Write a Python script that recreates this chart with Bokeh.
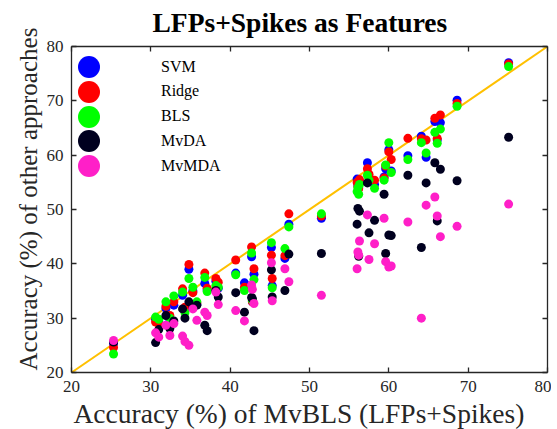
from bokeh.plotting import figure
from bokeh.models import (Legend, LegendItem, LinearAxis, CustomJSTickFormatter,
                          SingleIntervalTicker, Range1d, Title)
from bokeh.embed import file_html
from bokeh.resources import INLINE

# ---- data ----
mvbls = [25.3, 30.6, 31.0, 31.9, 32.4, 32.9, 34.0, 34.3, 34.8, 35.3, 35.8, 36.8, 37.1,
         38.2, 38.5, 40.7, 41.8, 42.7, 43.0, 42.8, 45.2, 45.3, 46.9, 47.4, 51.5,
         56.0, 56.1, 56.3, 56.2, 57.3, 57.5, 58.2, 59.4, 59.6, 60.0, 60.3, 62.4,
         64.1, 64.7, 65.8, 66.1, 66.5, 68.6, 75.1]
svm = [25.3, 29.8, 29.5, 31.8, 29.5, 32.4, 34.2, 31.5, 39.0, 35.0, 32.5, 36.4, 35.2,
       36.8, 35.5, 38.3, 36.5, 41.3, 38.1, 33.0, 43.0, 36.0, 41.0, 47.3, 48.4,
       55.6, 54.5, 55.2, 54.0, 58.6, 56.0, 54.6, 56.0, 57.5, 61.0, 57.1, 59.9,
       63.5, 59.6, 66.2, 62.8, 66.0, 70.1, 77.0]
ridge = [24.6, 29.3, 29.0, 32.2, 30.5, 33.0, 35.4, 32.0, 39.9, 34.7, 32.8, 38.3, 35.5,
         37.3, 36.6, 40.7, 35.7, 43.1, 39.1, 33.0, 41.6, 37.3, 41.5, 49.2, 48.8,
         55.0, 54.2, 55.5, 53.8, 57.5, 56.5, 55.4, 55.8, 58.0, 60.6, 59.2, 63.1,
         63.0, 62.8, 66.8, 63.1, 67.4, 69.5, 76.8]
bls = [23.4, 30.2, 29.8, 33.0, 30.0, 34.1, 34.8, 31.0, 37.3, 35.7, 33.0, 37.5, 34.9,
       36.0, 35.7, 38.0, 35.1, 42.0, 37.1, 33.3, 43.9, 35.6, 42.8, 46.8, 49.2,
       53.3, 54.0, 54.6, 52.8, 56.3, 55.4, 53.9, 55.4, 58.2, 62.3, 56.8, 59.2,
       62.3, 60.4, 64.2, 62.2, 64.8, 69.0, 76.3]
mvda = [25.6, 25.5, 27.9, 30.5, 28.1, 29.5, 31.7, 30.0, 33.0, 32.0, 32.4, 28.7, 27.7,
        35.1, 33.9, 34.7, 31.1, 33.8, 27.7, 33.6, 38.9, 33.9, 35.1, 41.8, 41.9,
        47.3, 50.2, 49.7, 41.4, 54.9, 45.7, 48.0, 52.8, 41.9, 45.3, 45.2, 56.3,
        43.0, 54.9, 58.6, 47.9, 57.4, 55.3, 63.3]
mvmda = [25.9, 27.3, 26.5, 28.7, 26.8, 29.0, 26.7, 25.7, 25.0, 31.7, 29.6, 31.1, 30.5,
         34.8, 32.5, 31.4, 29.5, 36.1, 32.7, 35.3, 40.2, 33.2, 39.1, 36.7, 34.2,
         39.1, 42.2, 44.2, 41.6, 49.0, 40.8, 43.7, 48.4, 40.4, 39.4, 39.6, 47.7,
         30.0, 50.8, 52.3, 48.8, 45.0, 46.9, 51.0]

series_names = ["SVM", "Ridge", "BLS", "MvDA", "MvMDA"]
series_vals = [svm, ridge, bls, mvda, mvmda]
series_colors = ["#0000FF", "#FF0000", "#00FF00", "#00001F", "#FF1FC8"]
axis_lo, axis_hi = 20, 80

FONT = "Liberation Serif"
TXT = "#262626"
FH = 326

p = figure(frame_width=476, frame_height=FH,
           x_range=Range1d(axis_lo, axis_hi), y_range=Range1d(axis_lo, axis_hi),
           output_backend="svg", toolbar_location=None,
           min_border_left=71, min_border_right=2, min_border_top=10, min_border_bottom=10,
           title="LFPs+Spikes as Features")
p.background_fill_color = "white"
p.border_fill_color = "white"
p.outline_line_color = None
p.xgrid.visible = False
p.ygrid.visible = False

p.title.text_font = FONT
p.title.text_font_size = "27.5px"
p.title.text_font_style = "bold"
p.title.text_color = "black"
p.title.align = "left"
p.title.offset = 81
p.title.standoff = 9

# reference diagonal
p.line([axis_lo, axis_hi], [axis_lo, axis_hi], line_color="#FFC000", line_width=2)

renderers = []
for name, vals, col in zip(series_names, series_vals, series_colors):
    r = p.scatter(mvbls, vals, size=9, marker="circle", fill_color=col, line_color=None)
    renderers.append(r)

def style_axis(ax, labels=True):
    ax.ticker = SingleIntervalTicker(interval=10)
    ax.axis_line_color = TXT
    ax.axis_line_width = 1.3
    ax.major_tick_line_color = TXT
    ax.major_tick_line_width = 1.3
    ax.major_tick_in = 5
    ax.major_tick_out = 0
    ax.minor_tick_line_color = None
    ax.major_label_text_font = FONT
    ax.major_label_text_font_size = "17px"
    ax.major_label_text_color = TXT
    ax.major_label_standoff = 4
    if not labels:
        ax.formatter = CustomJSTickFormatter(code="return ''")

style_axis(p.xaxis[0])
style_axis(p.yaxis[0])

top = LinearAxis()
style_axis(top, labels=False)
p.add_layout(top, "above")
right = LinearAxis()
style_axis(right, labels=False)
p.add_layout(right, "right")

xlab = Title(text="Accuracy (%) of MvBLS (LFPs+Spikes)", align="left", offset=2,
             text_font=FONT, text_font_size="27.5px", text_font_style="normal",
             text_color=TXT, standoff=2)
p.add_layout(xlab, "below")
ylab = Title(text="Accuracy (%) of other approaches", align="left", offset=2,
             text_font=FONT, text_font_size="25px", text_font_style="normal",
             text_color=TXT, standoff=4)
p.add_layout(ylab, "left")

# one legend per entry, stacked with MATLAB-like spacing
for i, (n, r) in enumerate(zip(series_names, renderers)):
    c = 20.5 + 24.75 * i
    lg = Legend(items=[LegendItem(label=n, renderers=[r])],
                location=(-10, FH - c - 27.5), glyph_width=55, glyph_height=55,
                padding=0, margin=0, label_standoff=45,
                label_text_font=FONT, label_text_font_size="16px", label_text_color="black",
                background_fill_alpha=0, border_line_color=None)
    p.add_layout(lg, "center")

open("out.html", "w").write(file_html(p, INLINE))
